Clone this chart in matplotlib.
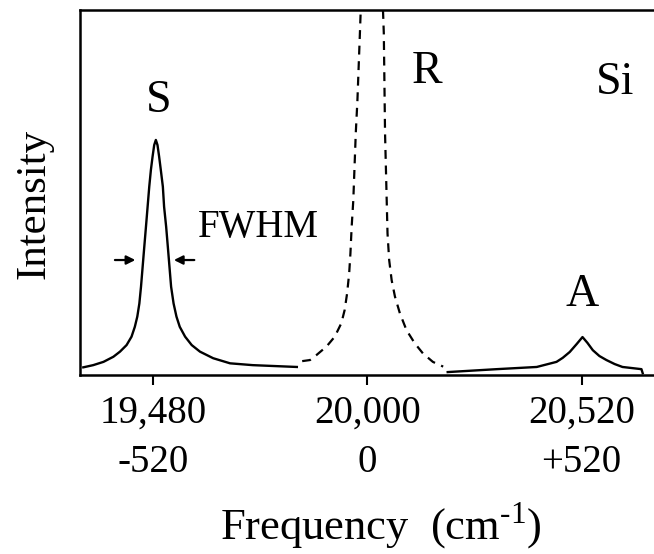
import matplotlib.pyplot as plt
import numpy as np

plt.rcParams['font.family'] = 'Liberation Serif'
plt.rcParams['mathtext.fontset'] = 'custom'
plt.rcParams['mathtext.rm'] = 'Liberation Serif'

# Raman spectrum (frequency in cm-1, intensity in a.u.)
s_x = [19311, 19335, 19360, 19384, 19400, 19416, 19428, 19436, 19442, 19447,
       19451, 19455, 19459, 19463, 19467, 19471, 19475, 19479, 19483, 19487,
       19491, 19495, 19499, 19504, 19507, 19512, 19516, 19520, 19524, 19530,
       19537, 19545, 19558, 19574, 19594, 19626, 19667, 19722, 19829]
s_y = [2.1, 2.7, 3.6, 5.0, 6.4, 8.2, 10.5, 13.2, 16.0, 19.6,
       24.2, 29.7, 35.2, 40.6, 46.1, 51.6, 56.2, 59.8, 63.0, 64.4,
       63.0, 59.8, 56.2, 51.6, 46.1, 40.6, 35.2, 29.7, 24.2, 19.6,
       16.0, 13.2, 10.5, 8.2, 6.4, 4.6, 3.2, 2.7, 2.2]

r_left_x = [19842, 19861, 19877, 19901, 19921, 19937, 19945, 19951, 19956,
            19959, 19962, 19966, 19969, 19972, 19976, 19979, 19982, 19984]
r_left_y = [3.8, 4.1, 5.5, 7.8, 10.5, 14.2, 17.8, 22.4, 27.9,
            33.3, 40.6, 47.9, 57.1, 66.3, 75.3, 84.5, 93.6, 100]
r_right_x = [20038, 20040, 20041, 20042, 20043, 20045, 20047, 20049, 20053,
             20059, 20067, 20079, 20095, 20115, 20135, 20159, 20184]
r_right_y = [100, 93.6, 84.5, 75.3, 66.2, 57.1, 47.9, 38.8, 31.5,
             26.0, 21.5, 16.9, 12.3, 8.7, 5.9, 3.6, 2.3]

a_x = [20195, 20314, 20411, 20459, 20474, 20491, 20508, 20522, 20534,
       20547, 20563, 20580, 20600, 20619, 20665, 20668]
a_y = [0.8, 1.6, 2.2, 3.6, 4.7, 6.3, 8.5, 10.4, 8.8,
       6.8, 5.2, 4.1, 3.0, 2.2, 1.6, 0.5]

ticks = [19480, 20000, 20520]
tick_labels = ['19,480\n-520', '20,000\n0', '20,520\n+520']

fig = plt.figure(figsize=(6.54, 5.54), dpi=100)
ax = fig.add_axes([80/654, 1 - 375/554, 580/654, 365/554])

ax.plot(s_x, s_y, color='black', lw=1.7)
ax.plot(r_left_x, r_left_y, color='black', lw=1.6, dashes=(4, 3))
ax.plot(r_right_x, r_right_y, color='black', lw=1.6, dashes=(4, 3))
ax.plot(a_x, a_y, color='black', lw=1.7)

ax.set_xlim(19303, 20710)
ax.set_ylim(0, 100)
ax.set_yticks([])
ax.set_xticks(ticks)
ax.set_xticklabels(tick_labels, fontsize=28)
for lbl in ax.get_xticklabels():
    lbl.set_linespacing(1.44)
ax.tick_params(axis='x', direction='out', length=7, width=1.5, pad=7)
for sp in ['left', 'top', 'bottom']:
    ax.spines[sp].set_linewidth(1.8)
ax.spines['right'].set_visible(False)

fig.text(381/654, 1 - 540/554, r'Frequency  (cm$^{\text{-}1}$)', fontsize=32,
         ha='center', va='baseline')
fig.text(34/654, 1 - 204/554, 'Intensity', fontsize=31, rotation=90,
         ha='center', va='center')

ax.text(19495, 75, 'S', fontsize=33, ha='center', va='center')
ax.text(20145, 83, 'R', fontsize=33, ha='center', va='center')
ax.text(20600, 80, 'Si', fontsize=33, ha='center', va='center')
ax.text(20522, 22, 'A', fontsize=33, ha='center', va='center')
ax.text(19589, 40.5, 'FWHM', fontsize=28, ha='left', va='center')

# FWHM arrows
ax.annotate('', xy=(19444, 31.5), xytext=(19381, 31.5),
            arrowprops=dict(arrowstyle='-|>', color='black', lw=1.6, mutation_scale=13))
ax.annotate('', xy=(19524, 31.5), xytext=(19587, 31.5),
            arrowprops=dict(arrowstyle='-|>', color='black', lw=1.6, mutation_scale=13))

fig.savefig('out.png', dpi=100)
